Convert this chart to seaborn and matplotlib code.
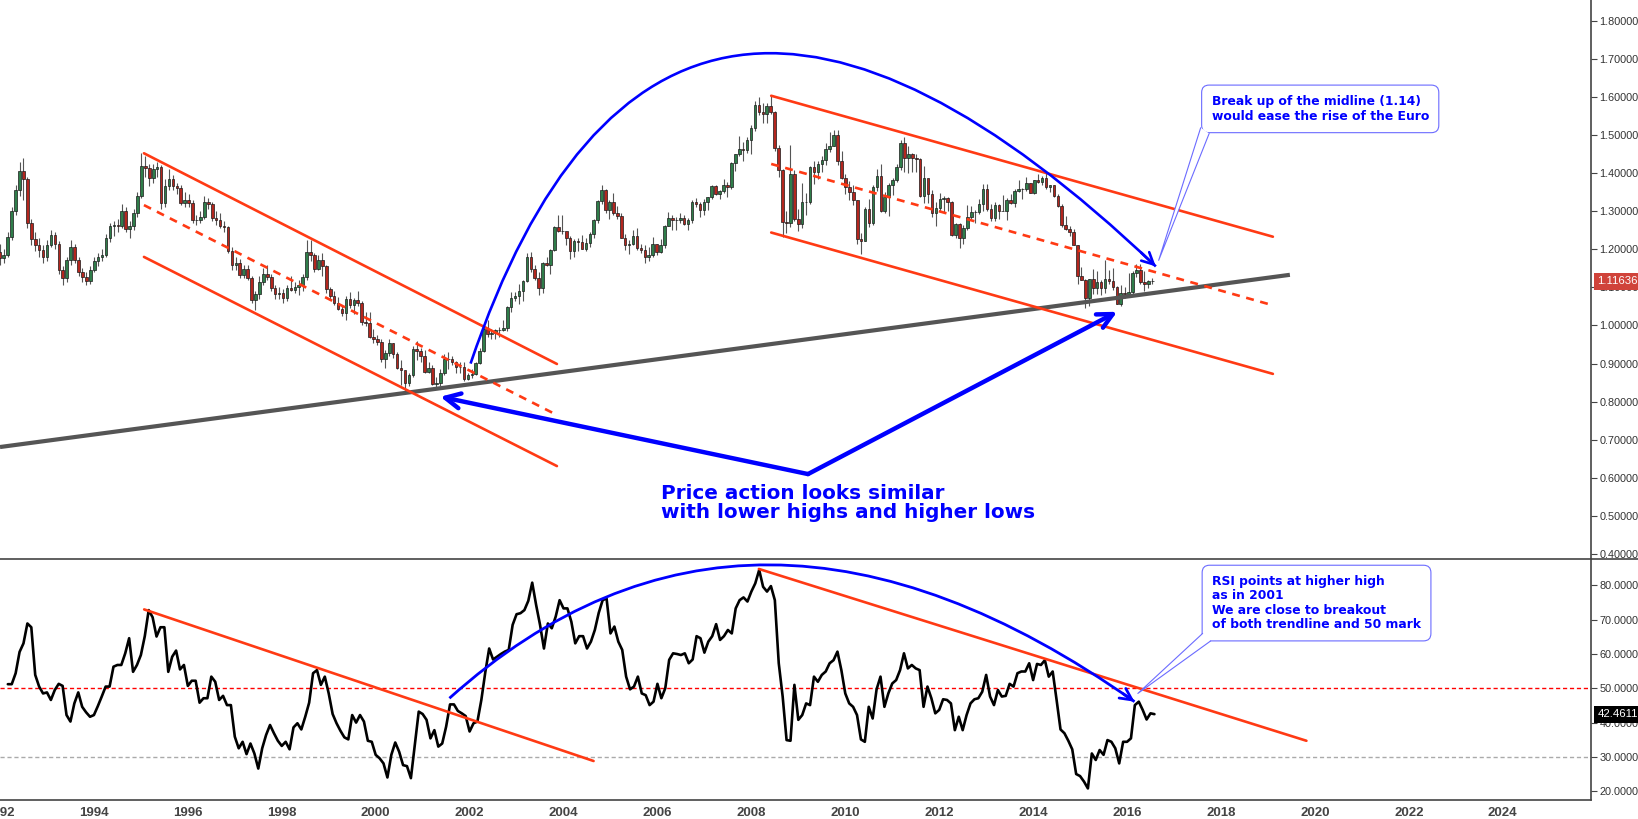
import numpy as np
import matplotlib
matplotlib.use("Agg")
import matplotlib.pyplot as plt
import matplotlib.transforms as mtransforms
import seaborn as sns
from matplotlib.path import Path
from matplotlib.patches import PathPatch, Polygon
from matplotlib.lines import Line2D

# ---- monthly EUR/USD candles, Mar 1992 .. Aug 2016 (open = previous close) ----
first_open = 1.192
closes = [
    1.178, 1.186, 1.232, 1.300, 1.355, 1.405, 1.385, 1.270, 1.226, 1.212,
    1.198, 1.180, 1.212, 1.238, 1.215, 1.145, 1.125, 1.172, 1.207, 1.172, 1.140, 1.128,
    1.118, 1.145, 1.170, 1.180, 1.184, 1.230, 1.262, 1.264, 1.262, 1.301, 1.254, 1.262,
    1.295, 1.341, 1.418, 1.413, 1.388, 1.412, 1.415, 1.322, 1.366, 1.384, 1.366, 1.362,
    1.322, 1.330, 1.322, 1.278, 1.276, 1.286, 1.324, 1.318, 1.282, 1.276, 1.262, 1.258,
    1.195, 1.158, 1.165, 1.132, 1.148, 1.125, 1.066, 1.082, 1.113, 1.135, 1.128, 1.098,
    1.082, 1.085, 1.072, 1.098, 1.094, 1.102, 1.107, 1.128, 1.192, 1.186, 1.148, 1.172,
    1.156, 1.095, 1.077, 1.058, 1.043, 1.033, 1.070, 1.055, 1.068, 1.060, 1.008, 1.007,
    0.970, 0.965, 0.956, 0.911, 0.929, 0.953, 0.925, 0.888, 0.882, 0.849, 0.870, 0.939,
    0.932, 0.920, 0.879, 0.888, 0.847, 0.849, 0.876, 0.912, 0.911, 0.903, 0.890, 0.890,
    0.859, 0.870, 0.872, 0.902, 0.933, 0.992, 0.977, 0.981, 0.988, 0.989, 0.993, 1.049,
    1.073, 1.078, 1.090, 1.117, 1.179, 1.149, 1.124, 1.099, 1.165, 1.160, 1.199, 1.259,
    1.247, 1.247, 1.229, 1.196, 1.221, 1.218, 1.202, 1.216, 1.241, 1.276, 1.326, 1.355,
    1.304, 1.325, 1.296, 1.287, 1.230, 1.210, 1.213, 1.234, 1.204, 1.198, 1.179, 1.184,
    1.215, 1.192, 1.212, 1.262, 1.282, 1.278, 1.276, 1.281, 1.267, 1.276, 1.325, 1.320,
    1.302, 1.323, 1.336, 1.365, 1.345, 1.354, 1.369, 1.364, 1.426, 1.449, 1.464, 1.460,
    1.486, 1.518, 1.580, 1.560, 1.555, 1.575, 1.560, 1.467, 1.408, 1.272, 1.270, 1.397,
    1.280, 1.266, 1.325, 1.324, 1.415, 1.404, 1.425, 1.434, 1.464, 1.472, 1.500, 1.433,
    1.386, 1.363, 1.351, 1.329, 1.227, 1.223, 1.306, 1.268, 1.363, 1.393, 1.300, 1.338,
    1.369, 1.382, 1.416, 1.480, 1.439, 1.450, 1.439, 1.438, 1.339, 1.386, 1.345, 1.296,
    1.309, 1.333, 1.334, 1.323, 1.237, 1.267, 1.230, 1.257, 1.286, 1.297, 1.298, 1.320,
    1.358, 1.306, 1.282, 1.317, 1.300, 1.301, 1.330, 1.322, 1.353, 1.358, 1.359, 1.375,
    1.349, 1.381, 1.377, 1.387, 1.363, 1.369, 1.339, 1.313, 1.263, 1.252, 1.245, 1.210,
    1.129, 1.120, 1.073, 1.122, 1.099, 1.115, 1.098, 1.121, 1.118, 1.100, 1.057, 1.086,
    1.083, 1.087, 1.138, 1.145, 1.113, 1.110, 1.117, 1.11636,
]
highs = [
    1.215, 1.200, 1.245, 1.310, 1.370, 1.430, 1.440, 1.390, 1.280, 1.245,
    1.230, 1.210, 1.225, 1.250, 1.245, 1.222, 1.155, 1.180, 1.225, 1.215, 1.180, 1.150,
    1.140, 1.155, 1.180, 1.190, 1.200, 1.240, 1.270, 1.275, 1.280, 1.320, 1.310, 1.275,
    1.305, 1.350, 1.452, 1.445, 1.425, 1.425, 1.430, 1.420, 1.385, 1.410, 1.395, 1.375,
    1.370, 1.350, 1.345, 1.330, 1.290, 1.300, 1.340, 1.335, 1.325, 1.300, 1.295, 1.275,
    1.262, 1.205, 1.180, 1.175, 1.160, 1.160, 1.130, 1.090, 1.130, 1.150, 1.160, 1.135,
    1.105, 1.100, 1.095, 1.105, 1.130, 1.115, 1.120, 1.135, 1.225, 1.225, 1.190, 1.185,
    1.191, 1.160, 1.100, 1.090, 1.075, 1.055, 1.078, 1.088, 1.072, 1.090, 1.065, 1.035,
    1.035, 0.990, 0.975, 0.965, 0.935, 0.965, 0.955, 0.930, 0.910, 0.875, 0.875, 0.945,
    0.959, 0.940, 0.935, 0.905, 0.895, 0.865, 0.885, 0.925, 0.930, 0.920, 0.908, 0.905,
    0.905, 0.875, 0.885, 0.905, 0.940, 0.996, 1.015, 0.990, 0.990, 0.995, 1.015, 1.050,
    1.087, 1.089, 1.108, 1.120, 1.190, 1.193, 1.160, 1.140, 1.167, 1.180, 1.200, 1.260,
    1.290, 1.290, 1.245, 1.235, 1.228, 1.230, 1.238, 1.230, 1.245, 1.280, 1.330, 1.368,
    1.358, 1.330, 1.349, 1.313, 1.295, 1.239, 1.225, 1.250, 1.257, 1.215, 1.210, 1.205,
    1.232, 1.215, 1.228, 1.265, 1.298, 1.290, 1.285, 1.296, 1.290, 1.282, 1.330, 1.335,
    1.325, 1.331, 1.338, 1.368, 1.368, 1.355, 1.385, 1.376, 1.428, 1.450, 1.498, 1.481,
    1.494, 1.525, 1.590, 1.601, 1.584, 1.585, 1.604, 1.563, 1.475, 1.410, 1.300, 1.474,
    1.407, 1.305, 1.374, 1.348, 1.418, 1.432, 1.431, 1.445, 1.478, 1.508, 1.514, 1.512,
    1.458, 1.397, 1.380, 1.370, 1.330, 1.242, 1.311, 1.333, 1.370, 1.412, 1.424, 1.350,
    1.374, 1.386, 1.425, 1.487, 1.494, 1.470, 1.453, 1.449, 1.440, 1.419, 1.381, 1.355,
    1.323, 1.349, 1.339, 1.336, 1.328, 1.269, 1.269, 1.264, 1.317, 1.314, 1.303, 1.331,
    1.371, 1.371, 1.319, 1.324, 1.319, 1.342, 1.334, 1.345, 1.357, 1.383, 1.362, 1.389,
    1.374, 1.383, 1.397, 1.392, 1.399, 1.370, 1.370, 1.345, 1.320, 1.287, 1.262, 1.253,
    1.212, 1.153, 1.123, 1.122, 1.147, 1.143, 1.120, 1.171, 1.146, 1.150, 1.104, 1.106,
    1.100, 1.138, 1.143, 1.162, 1.162, 1.142, 1.120, 1.124,
]
lows = [
    1.160, 1.165, 1.180, 1.225, 1.290, 1.340, 1.330, 1.255, 1.210, 1.195,
    1.180, 1.165, 1.170, 1.205, 1.200, 1.135, 1.105, 1.115, 1.160, 1.165, 1.130, 1.115,
    1.105, 1.110, 1.140, 1.155, 1.170, 1.180, 1.220, 1.235, 1.245, 1.255, 1.245, 1.230,
    1.250, 1.285, 1.335, 1.390, 1.365, 1.375, 1.390, 1.305, 1.310, 1.355, 1.355, 1.345,
    1.315, 1.310, 1.310, 1.270, 1.265, 1.270, 1.280, 1.305, 1.275, 1.265, 1.255, 1.245,
    1.190, 1.145, 1.145, 1.125, 1.125, 1.120, 1.060, 1.040, 1.070, 1.105, 1.120, 1.090,
    1.070, 1.070, 1.060, 1.065, 1.090, 1.085, 1.080, 1.090, 1.120, 1.170, 1.140, 1.145,
    1.130, 1.085, 1.070, 1.055, 1.040, 1.025, 1.014, 1.045, 1.030, 1.050, 1.000, 0.998,
    0.968, 0.955, 0.948, 0.905, 0.888, 0.920, 0.915, 0.885, 0.845, 0.823, 0.840, 0.865,
    0.910, 0.905, 0.875, 0.875, 0.845, 0.835, 0.840, 0.870, 0.885, 0.895, 0.875, 0.875,
    0.855, 0.856, 0.862, 0.870, 0.900, 0.930, 0.970, 0.965, 0.965, 0.970, 0.985, 0.985,
    1.035, 1.065, 1.057, 1.065, 1.115, 1.140, 1.120, 1.080, 1.085, 1.155, 1.135, 1.195,
    1.245, 1.240, 1.210, 1.175, 1.180, 1.195, 1.200, 1.195, 1.205, 1.230, 1.270, 1.320,
    1.295, 1.280, 1.290, 1.279, 1.230, 1.199, 1.187, 1.211, 1.199, 1.190, 1.164, 1.170,
    1.180, 1.185, 1.189, 1.203, 1.260, 1.251, 1.250, 1.270, 1.263, 1.250, 1.270, 1.310,
    1.286, 1.289, 1.303, 1.331, 1.342, 1.331, 1.349, 1.338, 1.359, 1.406, 1.445, 1.433,
    1.452, 1.450, 1.511, 1.552, 1.531, 1.531, 1.555, 1.459, 1.390, 1.233, 1.243, 1.258,
    1.274, 1.247, 1.256, 1.289, 1.318, 1.371, 1.385, 1.402, 1.421, 1.455, 1.471, 1.420,
    1.384, 1.344, 1.329, 1.317, 1.214, 1.188, 1.221, 1.259, 1.264, 1.353, 1.298, 1.294,
    1.287, 1.343, 1.376, 1.407, 1.403, 1.401, 1.402, 1.404, 1.336, 1.322, 1.321, 1.286,
    1.262, 1.298, 1.299, 1.300, 1.236, 1.229, 1.204, 1.213, 1.251, 1.280, 1.269, 1.292,
    1.300, 1.301, 1.274, 1.275, 1.279, 1.300, 1.276, 1.318, 1.312, 1.350, 1.333, 1.352,
    1.348, 1.346, 1.373, 1.368, 1.359, 1.350, 1.338, 1.312, 1.259, 1.250, 1.236, 1.210,
    1.110, 1.119, 1.046, 1.052, 1.082, 1.083, 1.079, 1.086, 1.109, 1.093, 1.056, 1.052,
    1.071, 1.081, 1.082, 1.128, 1.110, 1.091, 1.098, 1.110,
]

# ---- monthly RSI(14), same months ----
rsi = [
    51.2, 51.2, 54.4, 60.6, 63.1, 68.9, 67.8, 53.9, 50.5, 48.5,
    48.8, 46.6, 49.5, 51.3, 50.7, 42.2, 40.3, 45.6, 48.8, 44.6, 43.0, 41.7,
    42.2, 44.8, 47.6, 50.5, 50.5, 56.3, 56.8, 56.8, 60.2, 64.6, 54.8, 56.8,
    59.7, 65.2, 72.8, 70.7, 65.1, 67.8, 67.8, 54.8, 59.2, 61.0, 55.5, 56.8,
    50.7, 52.2, 52.2, 45.8, 47.1, 47.1, 53.4, 51.9, 46.6, 47.8, 45.1, 45.1,
    35.9, 32.5, 34.4, 30.8, 33.9, 31.0, 26.6, 32.5, 36.4, 39.3, 36.9, 34.7,
    33.2, 34.4, 32.2, 38.6, 39.8, 38.0, 41.7, 45.8, 54.4, 55.3, 51.0, 53.4,
    48.5, 42.5, 39.8, 37.6, 35.7, 35.1, 42.2, 40.0, 42.2, 40.3, 34.7, 34.4,
    30.6, 29.6, 28.1, 24.0, 30.6, 34.2, 31.5, 27.6, 27.3, 23.8, 33.5, 43.2,
    42.5, 40.8, 35.4, 37.8, 33.0, 33.9, 38.8, 45.3, 45.3, 43.4, 42.7, 41.9,
    37.4, 39.8, 40.3, 46.6, 54.6, 61.6, 58.4, 59.2, 60.0, 60.7, 61.2, 68.5,
    71.6, 71.9, 72.8, 75.5, 80.8, 74.3, 68.5, 61.6, 68.9, 67.5, 70.9, 75.7,
    73.3, 73.3, 69.4, 63.1, 65.2, 65.2, 61.6, 63.6, 67.0, 72.0, 75.7, 76.2,
    66.0, 68.0, 63.6, 61.2, 53.4, 49.7, 50.5, 53.4, 48.5, 48.0, 45.1, 46.1,
    51.3, 47.1, 50.0, 58.3, 60.2, 60.0, 59.7, 60.2, 57.3, 58.4, 65.2, 64.6,
    60.4, 63.6, 65.2, 68.7, 64.1, 65.2, 67.0, 66.0, 73.3, 75.7, 76.5, 75.3,
    78.2, 80.6, 84.5, 79.6, 78.2, 79.8, 75.7, 57.3, 47.6, 34.9, 34.7, 51.0,
    40.8, 42.2, 45.6, 45.1, 53.4, 51.9, 53.9, 54.9, 57.3, 58.2, 60.7, 55.3,
    48.5, 45.6, 44.6, 42.2, 35.1, 34.4, 44.6, 41.2, 49.7, 53.4, 44.6, 48.5,
    51.4, 52.4, 55.3, 60.2, 55.8, 56.8, 55.8, 55.3, 44.6, 50.5, 47.1, 42.7,
    43.7, 46.8, 46.6, 45.6, 37.8, 41.7, 37.8, 42.2, 45.6, 46.8, 47.1, 49.0,
    53.9, 47.6, 45.1, 49.5, 47.6, 47.8, 51.3, 50.5, 54.4, 54.9, 54.9, 57.3,
    52.4, 57.1, 56.8, 58.2, 53.4, 54.9, 46.6, 38.0, 36.9, 34.7, 32.2, 25.0,
    24.4, 22.8, 20.8, 31.0, 29.1, 32.0, 30.6, 34.9, 34.4, 32.5, 28.1, 34.4,
    34.4, 35.4, 45.1, 46.1, 43.7, 40.9, 42.7, 42.4611,
]

# ---- drawn annotations (x in years, y in price / RSI units) ----
support_x = [1992.17, 2019.50]
support_y = [0.681, 1.133]
chan1_x = [1995.22, 2003.97]
chan1_top = [1.452, 0.899]
chan1_mid = [1.316, 0.765]
chan1_bot = [1.180, 0.631]
chan2_x = [2008.51, 2019.14]
chan2_top = [1.603, 1.233]
chan2_mid = [1.424, 1.053]
chan2_bot = [1.244, 0.873]
arc_px = [2002.14, 2006.20, 2016.66]
arc_py = [0.900, 2.390, 1.155]
vee_x = [2001.50, 2009.29, 2015.84]
vee_y = [0.813, 0.610, 1.036]
rsi_tl1_x = [1995.07, 2004.64]
rsi_tl1_y = [73.0, 28.8]
rsi_tl2_x = [2008.16, 2019.82]
rsi_tl2_y = [84.8, 34.7]
rsi_arc_x = [2001.57, 2007.94, 2016.16]
rsi_arc_y = [47.1, 125.4, 46.1]

main_text = "Price action looks similar\nwith lower highs and higher lows"
note_price = "Break up of the midline (1.14)\nwould ease the rise of the Euro"
note_rsi = "RSI points at higher high\nas in 2001\nWe are close to breakout\nof both trendline and 50 mark"
note_price_tail = [(2017.61, 1.519), (2016.72, 1.171), (2017.79, 1.504)]
note_rsi_tail = [(2017.61, 66.0), (2016.23, 48.5), (2017.78, 63.8)]

last_price = 1.11636
last_rsi = 42.4611

# ---- styling ----
sns.set_theme(style="white")
plt.rcParams["font.family"] = ["Liberation Sans", "DejaVu Sans"]

BLUE = "#0000ff"
TREND = "#ff3a14"
GREEN = "#2f7d4a"
RED = "#b3261e"
AXC = "#444444"

W, H = 1638, 819
fig = plt.figure(figsize=(W / 100, H / 100), dpi=100)
fig.patch.set_facecolor("white")
ax = fig.add_axes([0, 1 - 559 / H, 1591 / W, 559 / H])
ax2 = fig.add_axes([0, 19 / H, 1591 / W, 241 / H])

n = len(closes)
xs = 1992 + (2 + np.arange(n)) / 12.0
c = np.array(closes)
o = np.concatenate([[first_open], c[:-1]])
hi = np.array(highs)
lo = np.array(lows)
up = c >= o

# candles
ax.vlines(xs, lo, hi, color="#555555", lw=0.8, zorder=2)
ax.bar(xs[up], c[up] - o[up], bottom=o[up], width=0.055, color=GREEN,
       edgecolor="#1a1a1a", linewidth=0.5, zorder=3)
ax.bar(xs[~up], c[~up] - o[~up], bottom=o[~up], width=0.055, color=RED,
       edgecolor="#1a1a1a", linewidth=0.5, zorder=3)

# trend lines and channels
ax.plot(support_x, support_y, color="#555555", lw=3, zorder=4, solid_capstyle="butt")
for xx, top, mid, bot in [(chan1_x, chan1_top, chan1_mid, chan1_bot),
                          (chan2_x, chan2_top, chan2_mid, chan2_bot)]:
    ax.plot(xx, top, color=TREND, lw=1.9, zorder=4)
    ax.plot(xx, bot, color=TREND, lw=1.9, zorder=4)
    ax.plot(xx, mid, color=TREND, lw=1.9, ls=(0, (3, 2.5)), zorder=4)


def bezier(px, py, t):
    t = np.asarray(t)
    bx = (1 - t) ** 2 * px[0] + 2 * t * (1 - t) * px[1] + t ** 2 * px[2]
    by = (1 - t) ** 2 * py[0] + 2 * t * (1 - t) * py[1] + t ** 2 * py[2]
    return bx, by


def draw_arc(a, px, py, lw):
    path = Path(list(zip(px, py)), [Path.MOVETO, Path.CURVE3, Path.CURVE3])
    a.add_patch(PathPatch(path, fc="none", ec=BLUE, lw=lw, zorder=5))
    bx, by = bezier(px, py, 0.985)
    a.annotate("", xy=(px[2], py[2]), xytext=(float(bx), float(by)),
               arrowprops=dict(arrowstyle="->,head_length=0.7,head_width=0.35",
                               color=BLUE, lw=lw, shrinkA=0, shrinkB=0), zorder=5)


draw_arc(ax, arc_px, arc_py, 1.9)

# big V arrows
for i in (0, 2):
    ax.annotate("", xy=(vee_x[i], vee_y[i]), xytext=(vee_x[1], vee_y[1]),
                arrowprops=dict(arrowstyle="->,head_length=0.9,head_width=0.45",
                                color=BLUE, lw=3.2, shrinkA=0, shrinkB=0), zorder=6)

ax.text(2006.17, 0.583, main_text, color=BLUE, fontsize=14.4, fontweight="bold",
        family="DejaVu Sans", va="top", ha="left", linespacing=0.98, zorder=6)


def callout(a, x, y, text, tail, ls):
    a.text(x, y, text, color=BLUE, fontsize=8.9, fontweight="bold", family="DejaVu Sans",
           va="top", ha="left", linespacing=ls, zorder=7,
           bbox=dict(boxstyle="round,pad=0.8,rounding_size=0.6", fc="white",
                     ec="#6b6bff", lw=0.8))
    a.add_patch(Polygon(tail, closed=True, fc="white", ec="none", zorder=8))
    a.plot([tail[0][0], tail[1][0], tail[2][0]], [tail[0][1], tail[1][1], tail[2][1]],
           color="#6b6bff", lw=0.8, zorder=8)


callout(ax, 2017.84, 1.605, note_price, note_price_tail, 1.18)

# ---- RSI panel ----
ax2.axhline(50, color="#ff0000", lw=1, ls=(0, (3, 2)), zorder=1)
ax2.axhline(30, color="#aaaaaa", lw=1, ls=(0, (3, 2)), zorder=1)
sns.lineplot(x=xs, y=rsi, ax=ax2, color="black", lw=1.9, zorder=3)
ax2.plot(rsi_tl1_x, rsi_tl1_y, color=TREND, lw=1.9, zorder=4)
ax2.plot(rsi_tl2_x, rsi_tl2_y, color=TREND, lw=1.9, zorder=4)
draw_arc(ax2, rsi_arc_x, rsi_arc_y, 2.0)
callout(ax2, 2017.81, 83.0, note_rsi, note_rsi_tail, 1.13)

# ---- axes cosmetics ----
for a in (ax, ax2):
    a.set_xlim(1992.17, 2025.88)
    a.set_facecolor("white")
    a.spines["left"].set_visible(False)
    a.spines["top"].set_visible(False)
    a.spines["right"].set_color(AXC)
    a.spines["right"].set_linewidth(1.2)
    a.yaxis.tick_right()
    a.tick_params(axis="y", direction="out", length=4, width=0.8, color=AXC,
                  labelsize=7.8, labelcolor="#333333", pad=2)
    a.grid(False)
ax.spines["bottom"].set_visible(False)
ax2.spines["bottom"].set_color(AXC)
ax2.spines["bottom"].set_linewidth(1.2)

ax.set_ylim(1.8543 - 559 / 381, 1.8543)
ax.set_yticks(np.arange(4, 19) / 10)
ax.set_yticklabels([f"{v / 10:.5f}" for v in range(4, 19)])
ax.set_xticks([])

ax2.set_ylim(17.43, 87.70)
ax2.set_yticks(range(20, 81, 10))
ax2.set_yticklabels([f"{v:.4f}" for v in range(20, 81, 10)])
years = list(range(1992, 2025, 2))
ax2.set_xticks(years)
ax2.set_xticklabels([str(y) for y in years], fontweight="bold",
                    family=["Liberation Sans Narrow", "Liberation Sans"])
ax2.tick_params(axis="x", direction="out", length=4, width=0.8, color=AXC,
                labelsize=9.5, labelcolor="#444444", pad=1)
ax2.set_xlabel("")
ax2.set_ylabel("")

fig.add_artist(Line2D([0, 1], [1 - 559 / H] * 2, color=AXC, lw=1.2,
                      transform=fig.transFigure))

# last value tags on the price scale
for a, val, txt, fc in [(ax, last_price, f"{last_price:.5f}", "#d0433a"),
                        (ax2, last_rsi, f"{last_rsi:.4f}", "#000000")]:
    tr = mtransforms.blended_transform_factory(a.transAxes, a.transData)
    a.annotate(txt, xy=(1.0, val), xycoords=tr, xytext=(4.5, 0), textcoords="offset points",
               ha="left", va="center", color="white", fontsize=8.2, annotation_clip=False,
               bbox=dict(boxstyle="square,pad=0.32", fc=fc, ec="none"), zorder=10)

fig.savefig("out.png", dpi=100, facecolor="white")
